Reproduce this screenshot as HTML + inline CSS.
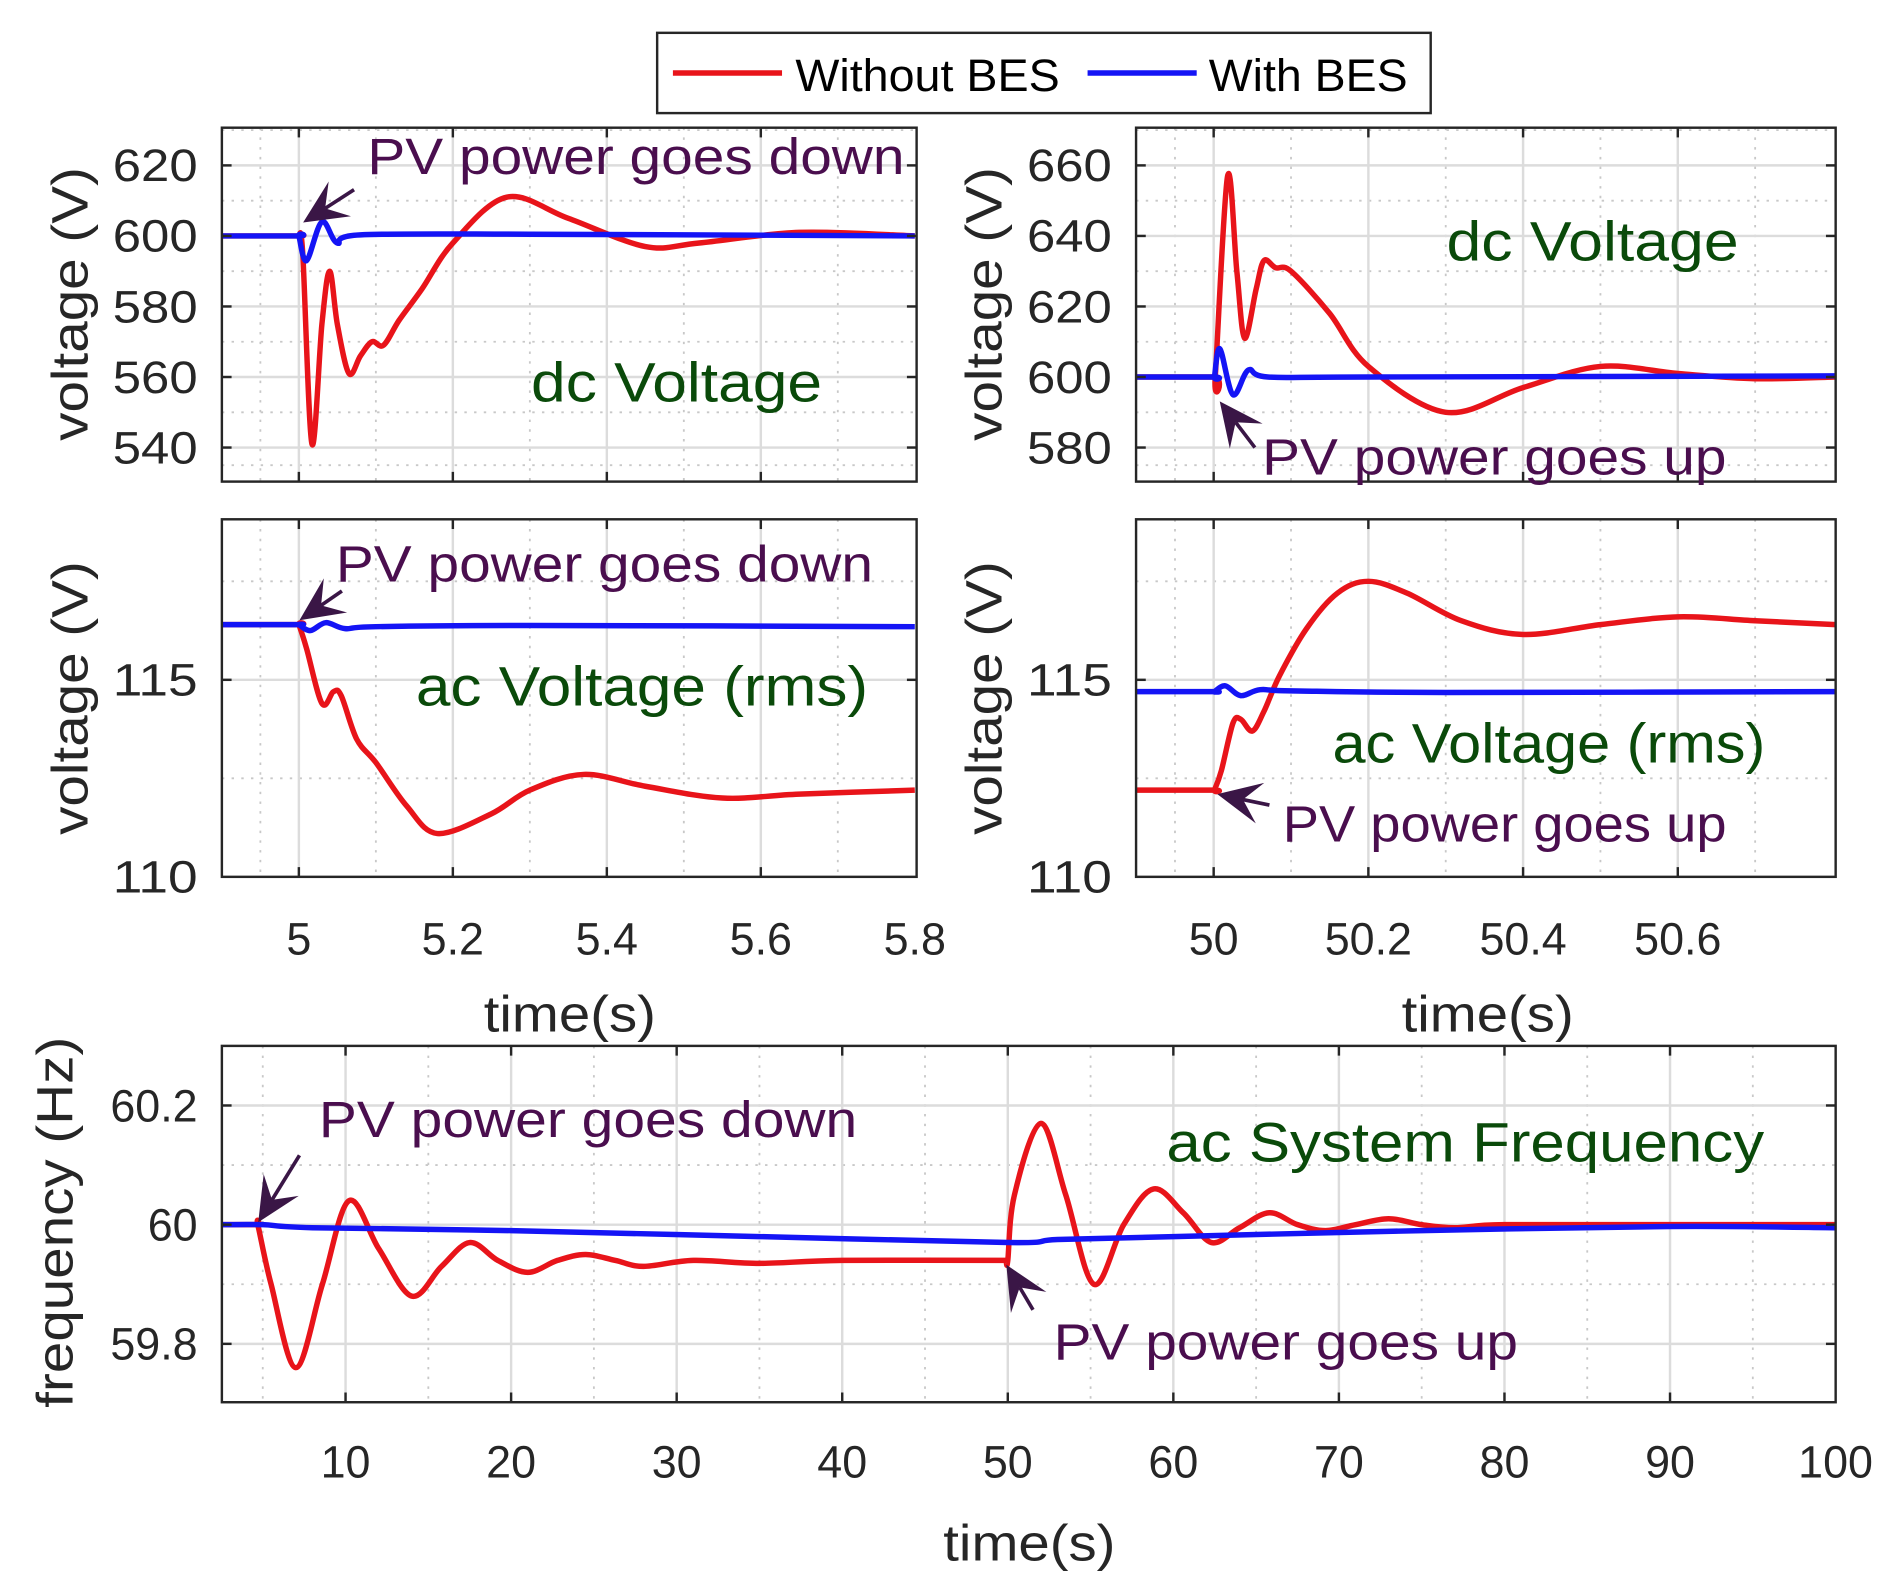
<!DOCTYPE html>
<html><head><meta charset="utf-8"><style>
html,body{margin:0;padding:0;background:#fff}
svg{display:block}
text{font-family:"Liberation Sans",sans-serif}
</style></head><body>
<svg id="s" width="1889" height="1581" viewBox="0 0 1558 1300" preserveAspectRatio="none" xmlns="http://www.w3.org/2000/svg">
<rect width="1558" height="1300" fill="#fff"/>
<g id="g"></g>
</svg>
<script>
const g=document.getElementById('g');let h='';
function cr(pts){let d='M'+pts[0][0].toFixed(1)+','+pts[0][1].toFixed(1);
 for(let i=0;i<pts.length-1;i++){const p0=pts[Math.max(0,i-1)],p1=pts[i],p2=pts[i+1],p3=pts[Math.min(pts.length-1,i+2)];
  const c1=[p1[0]+(p2[0]-p0[0])/6,p1[1]+(p2[1]-p0[1])/6],c2=[p2[0]-(p3[0]-p1[0])/6,p2[1]-(p3[1]-p1[1])/6];
  d+=' C'+c1.map(v=>v.toFixed(1))+' '+c2.map(v=>v.toFixed(1))+' '+p2[0].toFixed(1)+','+p2[1].toFixed(1);}
 return d;}
function panel(x0,x1,y0,y1,xt,yt,xmin,yminor,xminor){
 xminor.forEach(x=>h+=`<line x1="${x}" x2="${x}" y1="${y0}" y2="${y1}" stroke="#c8c8c8" stroke-width="1.5" stroke-dasharray="2,6"/>`);
 yminor.forEach(y=>h+=`<line x1="${x0}" x2="${x1}" y1="${y}" y2="${y}" stroke="#c8c8c8" stroke-width="1.5" stroke-dasharray="2,6"/>`);
 xt.forEach(x=>h+=`<line x1="${x}" x2="${x}" y1="${y0}" y2="${y1}" stroke="#dcdcdc" stroke-width="2"/>`);
 yt.forEach(y=>h+=`<line x1="${x0}" x2="${x1}" y1="${y}" y2="${y}" stroke="#dcdcdc" stroke-width="2"/>`);
}
function frame(x0,x1,y0,y1,xt,yt){
 h+=`<rect x="${x0}" y="${y0}" width="${x1-x0}" height="${y1-y0}" fill="none" stroke="#262626" stroke-width="2"/>`;
 xt.forEach(x=>h+=`<line x1="${x}" x2="${x}" y1="${y1}" y2="${y1-8}" stroke="#262626" stroke-width="2"/><line x1="${x}" x2="${x}" y1="${y0}" y2="${y0+8}" stroke="#262626" stroke-width="2"/>`);
 yt.forEach(y=>h+=`<line x1="${x0}" x2="${x0+8}" y1="${y}" y2="${y}" stroke="#262626" stroke-width="2"/><line x1="${x1}" x2="${x1-8}" y1="${y}" y2="${y}" stroke="#262626" stroke-width="2"/>`);
}
function path(d,c){h+=`<path d="${d}" fill="none" stroke="${c}" stroke-width="4.5" stroke-linejoin="round"/>`;}
function txt(x,y,s,size,col,w,anchor){h+=`<text x="${x}" y="${y}" font-size="${size}" fill="${col}" ${w?`textLength="${w}" lengthAdjust="spacingAndGlyphs"`:''} ${anchor?`text-anchor="${anchor}"`:''}>${s}</text>`;}
function arrow(tx,ty,hx,hy){const a=Math.atan2(hy-ty,hx-tx),L=36,W=17;
 const bx=hx-L*Math.cos(a),by=hy-L*Math.sin(a);const nx=-Math.sin(a),ny=Math.cos(a);
 const mx=hx-L*0.6*Math.cos(a),my=hy-L*0.6*Math.sin(a);
 h+=`<line x1="${tx}" y1="${ty}" x2="${mx}" y2="${my}" stroke="#3a1646" stroke-width="3"/>`;
 h+=`<polygon points="${hx},${hy} ${bx+nx*W},${by+ny*W} ${mx},${my} ${bx-nx*W},${by-ny*W}" fill="#3a1646"/>`;}
const TXc='#262626',PV='#4a0e4e',GR='#0a4a0a';
const XL=t=>183+(t-4.9)*635;
const xtL=[5,5.2,5.4,5.6].map(XL),xmL=[4.95,5.1,5.3,5.5,5.7].map(XL);
const YTL=v=>194-(v-600)*2.9;
panel(183,756,105,396,xtL,[620,600,580,560,540].map(YTL),0,[630,610,590,570,550,535].map(YTL),xmL);
path(cr([[4.9,600],[4.999,600],[5.0,600],[5.005,595],[5.017,541],[5.03,575],[5.04,590],[5.05,575],[5.065,561],[5.08,566],[5.095,570],[5.11,569],[5.13,576],[5.16,585],[5.2,598],[5.27,611],[5.35,605],[5.45,597],[5.52,598],[5.65,601],[5.8,600]].map(p=>[XL(p[0]),YTL(p[1])])),'#e8141a');
path(cr([[4.9,600],[4.999,600],[5.0,600],[5.01,593],[5.03,604],[5.05,598],[5.08,600.3],[5.3,600.5],[5.8,600]].map(p=>[XL(p[0]),YTL(p[1])])),'#1414f5');
frame(183,756,105,396,xtL,[620,600,580,560,540].map(YTL));
[620,600,580,560,540].forEach(v=>txt(163,YTL(v)+13,v,37,TXc,70,'end'));
const XR=t=>1001+(t-50)*638;
const xtR=[50,50.2,50.4,50.6].map(XR),xmR=[49.95,50.1,50.3,50.5,50.7].map(XR);
const YTR=v=>310-(v-600)*2.9;
const ytR=[660,640,620,600,580].map(YTR);
panel(937,1514,105,396,xtR,ytR,0,[670,650,630,610,590,575].map(YTR),xmR);
path(cr([[49.9,600],[50.0,600],[50.002,600],[50.018,657],[50.03,630],[50.04,611],[50.055,625],[50.065,633],[50.08,631],[50.1,630],[50.15,618],[50.2,603],[50.3,590],[50.4,597],[50.5,603],[50.6,601],[50.7,599.5],[50.804,600]].map(p=>[XR(p[0]),YTR(p[1])])),'#e8141a');
path(cr([[49.9,600],[50.0,600],[50.001,600],[50.008,608],[50.025,595],[50.045,602],[50.07,600],[50.2,600],[50.804,600.3]].map(p=>[XR(p[0]),YTR(p[1])])),'#1414f5');
frame(937,1514,105,396,xtR,ytR);
[660,640,620,600,580].forEach(v=>txt(917,YTR(v)+13,v,37,TXc,70,'end'));
const YM=v=>559-(v-115)*32.4;
panel(183,756,427,721,xtL,[115].map(YM),0,[117.5,112.5].map(YM),xmL);
path(cr([[4.9,116.4],[4.999,116.4],[5.0,116.4],[5.01,115.8],[5.03,114.4],[5.045,114.7],[5.055,114.6],[5.075,113.5],[5.1,112.9],[5.14,111.8],[5.18,111.1],[5.25,111.6],[5.3,112.2],[5.37,112.6],[5.45,112.3],[5.55,112.0],[5.65,112.1],[5.8,112.2]].map(p=>[XL(p[0]),YM(p[1])])),'#e8141a');
path(cr([[4.9,116.4],[4.999,116.4],[5.0,116.4],[5.015,116.25],[5.035,116.45],[5.06,116.3],[5.1,116.35],[5.3,116.38],[5.8,116.35]].map(p=>[XL(p[0]),YM(p[1])])),'#1414f5');
frame(183,756,427,721,xtL,[115].map(YM));
txt(163,YM(115)+13,'115',37,TXc,70,'end');txt(163,YM(110)+13,'110',37,TXc,70,'end');
panel(937,1514,427,721,xtR,[115].map(YM),0,[117.5,112.5].map(YM),xmR);
path(cr([[49.9,112.2],[50.0,112.2],[50.001,112.2],[50.01,112.7],[50.025,113.9],[50.035,114.0],[50.05,113.7],[50.065,114.2],[50.085,115.1],[50.12,116.3],[50.16,117.2],[50.2,117.5],[50.25,117.2],[50.32,116.5],[50.4,116.15],[50.5,116.4],[50.6,116.6],[50.7,116.5],[50.804,116.4]].map(p=>[XR(p[0]),YM(p[1])])),'#e8141a');
path(cr([[49.9,114.7],[50.0,114.7],[50.001,114.7],[50.015,114.85],[50.035,114.6],[50.06,114.75],[50.1,114.72],[50.3,114.68],[50.804,114.7]].map(p=>[XR(p[0]),YM(p[1])])),'#1414f5');
frame(937,1514,427,721,xtR,[115].map(YM));
txt(917,YM(115)+13,'115',37,TXc,70,'end');txt(917,YM(110)+13,'110',37,TXc,70,'end');
[[5,'5'],[5.2,'5.2'],[5.4,'5.4'],[5.6,'5.6'],[5.8,'5.8']].forEach(p=>txt(XL(p[0]),785,p[1],37,TXc,0,'middle'));
[[50,'50'],[50.2,'50.2'],[50.4,'50.4'],[50.6,'50.6']].forEach(p=>txt(XR(p[0]),785,p[1],37,TXc,0,'middle'));
txt(470,848,'time(s)',42,TXc,142,'middle');txt(1227,848,'time(s)',42,TXc,142,'middle');
const XB=t=>285+(t-10)*13.655;
const YB=v=>1007-(v-60)*490;
const xtB=[10,20,30,40,50,60,70,80,90].map(XB),xmB=[5,15,25,35,45,55,65,75,85,95].map(XB);
panel(183,1514,860,1153,xtB,[60.2,60,59.8].map(YB),0,[60.1,59.9].map(YB),xmB);
path(cr([[2.5,60],[4.6,60],[4.7,60],[5.5,59.9],[7,59.76],[8.6,59.9],[10.2,60.04],[12,59.96],[14,59.88],[15.8,59.93],[17.5,59.97],[19.2,59.94],[21,59.92],[22.8,59.94],[24.5,59.95],[26.3,59.94],[28,59.93],[31,59.94],[35,59.935],[40,59.94],[49.9,59.94]].map(p=>[XB(p[0]),YB(p[1])])),'#e8141a');
path(cr([[49.9,59.94],[50,59.94],[50.4,60.05],[52,60.17],[53.5,60.05],[55.2,59.9],[57,60.0],[58.8,60.06],[60.6,60.02],[62.3,59.97],[64,59.995],[65.8,60.02],[67.5,60.0],[69.2,59.99],[71,60.0],[73,60.01],[75,60.0],[77,59.995],[80,60.0],[90,60.0],[100,60.0]].map(p=>[XB(p[0]),YB(p[1])])),'#e8141a');
path(cr([[2.5,60],[5,60],[8,59.995],[20,59.99],[35,59.98],[50,59.97],[53,59.975],[60,59.98],[75,59.99],[90,59.997],[100,59.995]].map(p=>[XB(p[0]),YB(p[1])])),'#1414f5');
frame(183,1514,860,1153,xtB,[60.2,60,59.8].map(YB));
[[60.2,'60.2'],[60,'60'],[59.8,'59.8']].forEach(p=>txt(163,YB(p[0])+13,p[1],37,TXc,0,'end'));
[10,20,30,40,50,60,70,80,90,100].forEach(v=>txt(XB(v),1215,v,37,TXc,0,'middle'));
txt(849,1283,'time(s)',42,TXc,142,'middle');
function ylab(x,y,s,w){h+=`<text transform="translate(${x},${y}) rotate(-90)" font-size="42" fill="${TXc}" text-anchor="middle" textLength="${w}" lengthAdjust="spacingAndGlyphs">${s}</text>`;}
ylab(72,250,'voltage (V)',225);ylab(826,250,'voltage (V)',225);
ylab(72,574,'voltage (V)',225);ylab(826,574,'voltage (V)',225);
ylab(60,1005,'frequency (Hz)',305);
txt(303,143,'PV power goes down',42,PV,443);txt(438,330,'dc Voltage',46,GR,240);
txt(1193,214,'dc Voltage',46,GR,241);txt(1041,390,'PV power goes up',42,PV,383);
txt(277,478,'PV power goes down',42,PV,443);txt(343,580,'ac Voltage (rms)',46,GR,373);
txt(1099,627,'ac Voltage (rms)',46,GR,357);txt(1058,692,'PV power goes up',42,PV,366);
txt(263,935,'PV power goes down',42,PV,444);txt(962,955,'ac System Frequency',46,GR,493);
txt(869,1118,'PV power goes up',42,PV,383);
arrow(292,156,250,183);arrow(1035,368,1006,330);arrow(282,486,247,510);
arrow(1047,662,1004,653);arrow(247,950,213,1005);arrow(852,1077,830,1040);
h+=`<rect x="542" y="27" width="638" height="66" fill="#fff" stroke="#262626" stroke-width="2"/>`;
h+=`<line x1="555" x2="645" y1="60" y2="60" stroke="#e8141a" stroke-width="4.5"/><line x1="897" x2="987" y1="60" y2="60" stroke="#1414f5" stroke-width="4.5"/>`;
txt(656,75,'Without BES',37,'#000',218);txt(997,75,'With BES',37,'#000',164);
g.innerHTML=h;
</script>
</body></html>
